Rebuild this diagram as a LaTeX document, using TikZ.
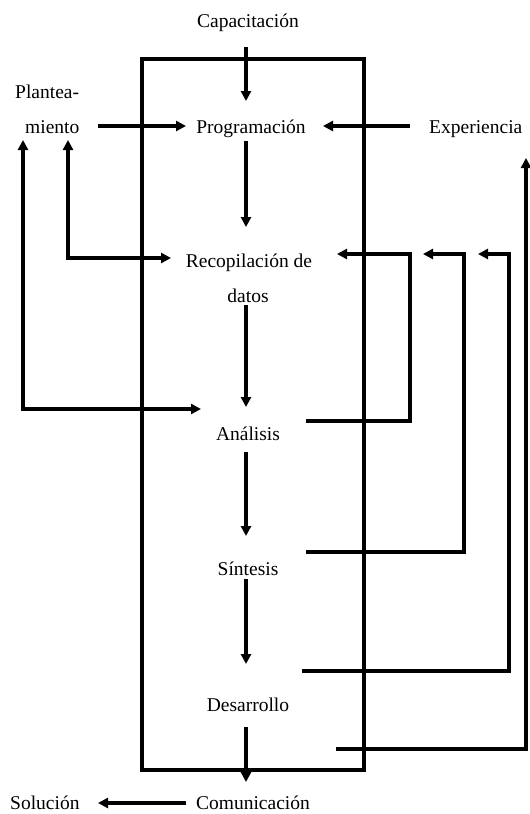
\documentclass[tikz,border=0pt]{standalone}
\usepackage{fontspec}
\setmainfont{Liberation Serif}
\usetikzlibrary{arrows.meta}
\begin{document}
\begin{tikzpicture}[x=1pt,y=-1pt,
  lbl/.style={inner sep=0pt, font=\fontsize{19.5}{23}\selectfont},
  tip/.tip={Triangle[length=10pt,width=10pt]},
  conn/.style={line width=3.2pt, -tip},
  bothconn/.style={line width=3.2pt, tip-tip},
  frame/.style={line width=3.4pt}]
\useasboundingbox (0,0) rectangle (530,814);

% stage labels
\node[lbl, anchor=base] (cap) at (248,27) {Capacitación};
\node[lbl, anchor=base west] (plan1) at (15,98) {Plantea-};
\node[lbl, anchor=base west] (plan2) at (25,133) {miento};
\node[lbl, anchor=base] (prog) at (251,133) {Programación};
\node[lbl, anchor=base west] (exp) at (429,133) {Experiencia};
\node[lbl, anchor=base] (rec1) at (249,267) {Recopilación de};
\node[lbl, anchor=base] (rec2) at (248,302) {datos};
\node[lbl, anchor=base] (ana) at (248,440) {Análisis};
\node[lbl, anchor=base] (sin) at (248,575) {Síntesis};
\node[lbl, anchor=base] (des) at (248,711) {Desarrollo};
\node[lbl, anchor=base] (com) at (253,809) {Comunicación};
\node[lbl, anchor=base west] (sol) at (10,809) {Solución};

% enclosing frame
\draw[frame] (142,59) rectangle (364,770);

% connector end points
\coordinate (capOut) at (246,47);   \coordinate (progIn) at (246,101);
\coordinate (progOut) at (246,141); \coordinate (recIn) at (246,227);
\coordinate (recOut) at (246,305);  \coordinate (anaIn) at (246,407);
\coordinate (anaOut) at (246,452);  \coordinate (sinIn) at (246,536);
\coordinate (sinOut) at (246,579);  \coordinate (desIn) at (246,664);
\coordinate (desOut) at (246,727);  \coordinate (comIn) at (246,782);

\coordinate (planOut) at (98,126);  \coordinate (progL) at (186,126);
\coordinate (expOut) at (410,126);  \coordinate (progR) at (323,126);
\coordinate (comOut) at (186,803);  \coordinate (solIn) at (98,803);

\coordinate (planA) at (68,140);    \coordinate (recL) at (171,258);
\coordinate (planB) at (23,140);    \coordinate (anaL) at (201,409);

\coordinate (anaR) at (306,421);    \coordinate (recR1) at (337,254); \coordinate (bendA) at (410,254);
\coordinate (sinR) at (306,552);    \coordinate (recR2) at (423,254); \coordinate (bendS) at (464,254);
\coordinate (desR) at (302,671);    \coordinate (recR3) at (478,254); \coordinate (bendD) at (509,254);
\coordinate (comR) at (336,749);    \coordinate (expIn) at (526,158);

% main sequence
\draw[conn] (capOut) -- (progIn);
\draw[conn] (progOut) -- (recIn);
\draw[conn] (recOut) -- (anaIn);
\draw[conn] (anaOut) -- (sinIn);
\draw[conn] (sinOut) -- (desIn);
\draw[conn] (desOut) -- (comIn);

% side inputs and output
\draw[conn] (planOut) -- (progL);
\draw[conn] (expOut) -- (progR);
\draw[conn] (comOut) -- (solIn);

% links with the problem statement
\draw[bothconn] (planA) |- (recL);
\draw[bothconn] (planB) |- (anaL);

% feedback loops to data collection
\draw[conn] (anaR) -| (bendA) -- (recR1);
\draw[conn] (sinR) -| (bendS) -- (recR2);
\draw[conn] (desR) -| (bendD) -- (recR3);
\draw[conn] (comR) -| (expIn);
\end{tikzpicture}
\end{document}
